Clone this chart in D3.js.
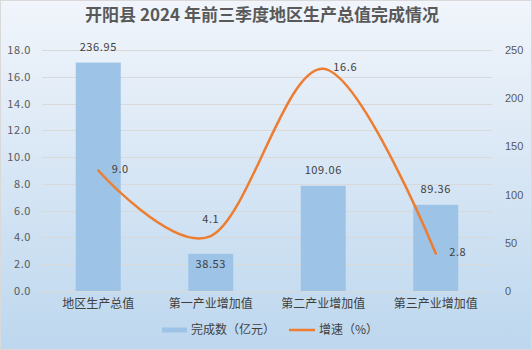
<!DOCTYPE html>
<html><head><meta charset="utf-8">
<script src="https://cdn.jsdelivr.net/npm/d3@7"></script>
<style>html,body{margin:0;padding:0;background:#fff}svg{display:block}</style>
</head><body>
<script>
const title = "开阳县 2024 年前三季度地区生产总值完成情况";
const categories = ["地区生产总值", "第一产业增加值", "第二产业增加值", "第三产业增加值"];
const amountValues = [236.95, 38.53, 109.06, 89.36];
const growthValues = [9.0, 4.1, 16.6, 2.8];
const leftTicks = [0, 2, 4, 6, 8, 10, 12, 14, 16, 18];
const rightTicks = [0, 50, 100, 150, 200, 250];
const seriesNames = ["完成数（亿元）", "增速（%）"];

const W = 532, H = 350;
const m = {l: 42, r: 40, t: 50, b: 59};
const font = "'Noto Sans CJK SC', 'Noto Sans', sans-serif";

const svg = d3.select("body").append("svg").attr("width", W).attr("height", H);
const defs = svg.append("defs");
const grad = defs.append("linearGradient").attr("id", "bg").attr("x1", 0).attr("y1", 0).attr("x2", 0).attr("y2", 1);
grad.append("stop").attr("offset", "0%").attr("stop-color", "#f1f5fb");
grad.append("stop").attr("offset", "100%").attr("stop-color", "#bdd7ee");
svg.append("rect").attr("x", 0.5).attr("y", 0.5).attr("width", W - 1).attr("height", H - 1)
  .attr("fill", "url(#bg)").attr("stroke", "#d9d9d9");

const x = d3.scaleBand().domain(categories).range([m.l, W - m.r]).paddingInner(0.6).paddingOuter(0.3);
const xc = d => x(d) + x.bandwidth() / 2;
const yL = d3.scaleLinear().domain([0, 18]).range([H - m.b, m.t]);
const yR = d3.scaleLinear().domain([0, 250]).range([H - m.b, m.t]);

// gridlines
svg.append("g").selectAll("line").data(leftTicks).join("line")
  .attr("x1", m.l).attr("x2", W - m.r)
  .attr("y1", d => Math.round(yL(d)) + 0.5).attr("y2", d => Math.round(yL(d)) + 0.5)
  .attr("stroke", "#d9d9d9").attr("stroke-width", 1);

// left axis
const axL = svg.append("g").attr("transform", `translate(${m.l},0)`)
  .call(d3.axisLeft(yL).tickValues(leftTicks).tickFormat(d3.format(".1f")).tickSize(0).tickPadding(11));
axL.select(".domain").remove();
axL.selectAll("text").attr("font-family", font).attr("font-size", 11).attr("fill", "#595959").attr("letter-spacing", 0.6);

// right axis
const axR = svg.append("g").attr("transform", `translate(${W - m.r},0)`)
  .call(d3.axisRight(yR).tickValues(rightTicks).tickFormat(d3.format("d")).tickSize(0).tickPadding(13));
axR.select(".domain").remove();
axR.selectAll("text").attr("font-family", "'Liberation Sans', Arial, sans-serif").attr("font-size", 11).attr("fill", "#595959");

// x axis
const axX = svg.append("g").attr("transform", `translate(0,${H - m.b})`)
  .call(d3.axisBottom(x).tickSize(0).tickPadding(8));
axX.select(".domain").remove();
axX.selectAll("text").attr("font-family", font).attr("font-size", 12).attr("fill", "#404040");

// bars
svg.append("g").selectAll("rect").data(amountValues).join("rect")
  .attr("x", (d, i) => x(categories[i])).attr("width", x.bandwidth())
  .attr("y", d => yR(d)).attr("height", d => yR(0) - yR(d)).attr("fill", "#9dc3e6");

// bar labels
svg.append("g").selectAll("text").data(amountValues).join("text")
  .attr("x", (d, i) => xc(categories[i]))
  .attr("y", (d, i) => i === 1 ? yR(d) + 14 : yR(d) - 12)
  .attr("text-anchor", "middle").attr("font-family", font).attr("font-size", 11)
  .attr("fill", "#404040").attr("letter-spacing", 0.6)
  .text(d => d3.format(".2f")(d));

// line
const line = d3.line().x((d, i) => xc(categories[i])).y(d => yL(d)).curve(d3.curveCatmullRom.alpha(0));
svg.append("path").datum(growthValues).attr("d", line).attr("fill", "none")
  .attr("stroke", "#ed7d31").attr("stroke-width", 2.5).attr("stroke-linecap", "round");

// line labels
svg.append("g").selectAll("text").data(growthValues).join("text")
  .attr("x", (d, i) => i === 1 ? xc(categories[i]) : xc(categories[i]) + 22)
  .attr("y", (d, i) => i === 1 ? yL(d) - 13 : yL(d) + 2)
  .attr("text-anchor", "middle").attr("font-family", font).attr("font-size", 11)
  .attr("fill", "#404040").attr("letter-spacing", 0.6)
  .text(d => d3.format(".1f")(d));

// title
svg.append("text").attr("x", 262).attr("y", 21).attr("text-anchor", "middle")
  .attr("font-family", font).attr("font-size", 17).attr("font-weight", "bold").attr("fill", "#595959")
  .text(title);

// legend
const lg = svg.append("g").attr("transform", "translate(0,330)");
lg.append("rect").attr("x", 162).attr("y", -2.5).attr("width", 25).attr("height", 5).attr("fill", "#9dc3e6");
lg.append("text").attr("x", 191).attr("y", 4).attr("font-family", font).attr("font-size", 12).attr("fill", "#404040").text(seriesNames[0]);
lg.append("line").attr("x1", 289).attr("x2", 315).attr("y1", 0).attr("y2", 0).attr("stroke", "#ed7d31").attr("stroke-width", 2.5);
lg.append("text").attr("x", 319).attr("y", 4).attr("font-family", font).attr("font-size", 12).attr("fill", "#404040").text(seriesNames[1]);
</script>
</body></html>
